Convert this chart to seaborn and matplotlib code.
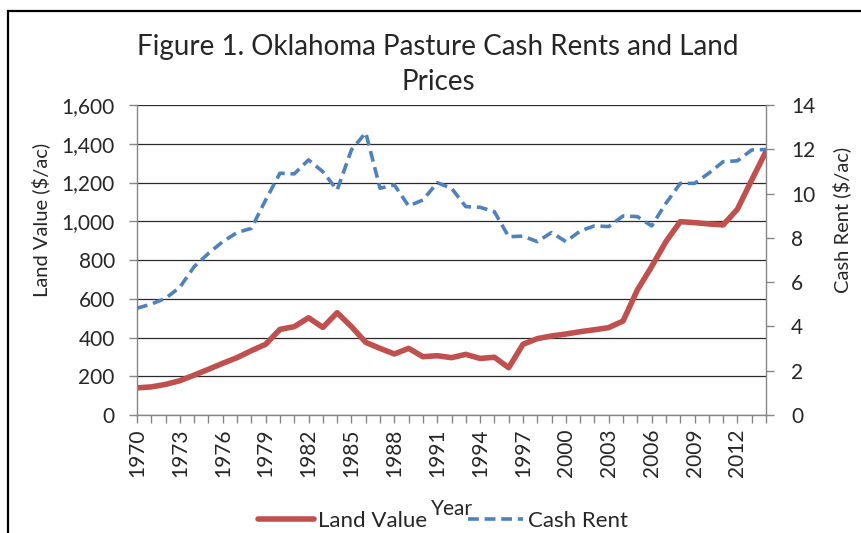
import matplotlib
matplotlib.use("Agg")
import matplotlib.pyplot as plt
import matplotlib.patches as patches
import matplotlib.ticker as mticker
import seaborn as sns
import pandas as pd

years = list(range(1970, 2015))
land_value = [140, 145, 158, 177, 206, 236, 267, 296, 332, 365,
              442, 456, 502, 452, 528, 456, 375, 344, 315, 344,
              301, 306, 296, 313, 292, 298, 244, 365, 394, 408,
              418, 430, 440, 451, 485, 645, 766, 895, 998, 993,
              986, 981, 1062, 1213, 1360]
cash_rent = [4.82, 5.01, 5.27, 5.77, 6.70, 7.30, 7.83, 8.24, 8.43, 9.71,
             10.92, 10.89, 11.52, 10.99, 10.16, 11.97, 12.75, 10.24, 10.39, 9.44,
             9.71, 10.49, 10.24, 9.41, 9.38, 9.18, 8.05, 8.08, 7.83, 8.24,
             7.83, 8.31, 8.54, 8.51, 8.99, 8.96, 8.54, 9.56, 10.46, 10.46,
             10.92, 11.44, 11.48, 11.97, 11.99]
label_years = list(range(1970, 2013, 3))

df = pd.DataFrame({"Year": years, "Land Value": land_value, "Cash Rent": cash_rent})

sns.set_style("white")
plt.rcParams["font.family"] = ["Lato", "DejaVu Sans"]

RED = "#C0504D"
BLUE = "#4F81BD"
GRAY = "#868686"

fig = plt.figure(figsize=(8.62, 5.33), dpi=100)
ax = fig.add_axes([137/862, 1-415/533, (766-137)/862, (415-105)/533])
ax2 = ax.twinx()

sns.lineplot(data=df, x="Year", y="Land Value", ax=ax, color=RED, linewidth=4,
             label="Land Value", legend=False)
sns.lineplot(data=df, x="Year", y="Cash Rent", ax=ax2, color=BLUE, linewidth=2.6,
             linestyle=(0, (3.0, 1.6)), label="Cash Rent", legend=False)

ax.set_xlim(1970, 2014)
ax.set_ylim(0, 1600)
ax2.set_ylim(0, 14)
ax.set_yticks(range(0, 1601, 200))
ax.yaxis.set_major_formatter(mticker.FuncFormatter(lambda v, p: f"{int(v):,}"))
ax2.set_yticks(range(0, 15, 2))

ax.set_xticks(label_years)
ax.set_xticklabels([str(y) for y in label_years], rotation=90)
ax.set_xticks(years, minor=True)

ax.grid(axis="y", color="#2a2a2a", linewidth=0.9)
ax.grid(axis="x", visible=False)
ax.set_axisbelow(True)

for a in (ax, ax2):
    for s in a.spines.values():
        s.set_visible(False)
ax.spines["left"].set_visible(True)
ax.spines["bottom"].set_visible(True)
ax2.spines["right"].set_visible(True)
for s in (ax.spines["left"], ax.spines["bottom"], ax2.spines["right"]):
    s.set_color(GRAY)
    s.set_linewidth(1.0)

ax.tick_params(axis="x", which="both", direction="out", length=6, width=1,
               color=GRAY, labelsize=15, pad=4, bottom=True)
ax.tick_params(axis="y", which="major", direction="out", length=6, width=1,
               color=GRAY, labelsize=15, pad=10, left=True)
ax2.tick_params(axis="y", which="major", direction="out", length=6, width=1,
                color=GRAY, labelsize=15, pad=12, right=True)

ax.set_xlabel("Year", fontsize=15)
ax.xaxis.set_label_coords(0.5, -0.27)
ax.set_ylabel("Land Value ($/ac)", fontsize=14.5)
ax.yaxis.set_label_coords(-0.138, 0.63)
ax2.set_ylabel("Cash Rent ($/ac)", fontsize=14.5, rotation=90)
ax2.yaxis.set_label_coords(1.106, 0.63)

fig.text(0.508, 1-47/533, "Figure 1. Oklahoma Pasture Cash Rents and Land",
         ha="center", va="center", fontsize=20)
fig.text(0.508, 1-82/533, "Prices", ha="center", va="center", fontsize=20)

h1, l1 = ax.get_legend_handles_labels()
h2, l2 = ax2.get_legend_handles_labels()
fig.legend(h1 + h2, l1 + l2, loc="center", bbox_to_anchor=(443/862, 1-521/533),
           ncol=2, frameon=False, fontsize=16, handlelength=2.5,
           handletextpad=0.2, columnspacing=1.8)

fig.patches.append(patches.Rectangle((8/862, -0.1), 2.0, 1.1 - 11/533,
                                     transform=fig.transFigure, fill=False,
                                     edgecolor="black", linewidth=1.6))

fig.savefig("out.png", dpi=100)
